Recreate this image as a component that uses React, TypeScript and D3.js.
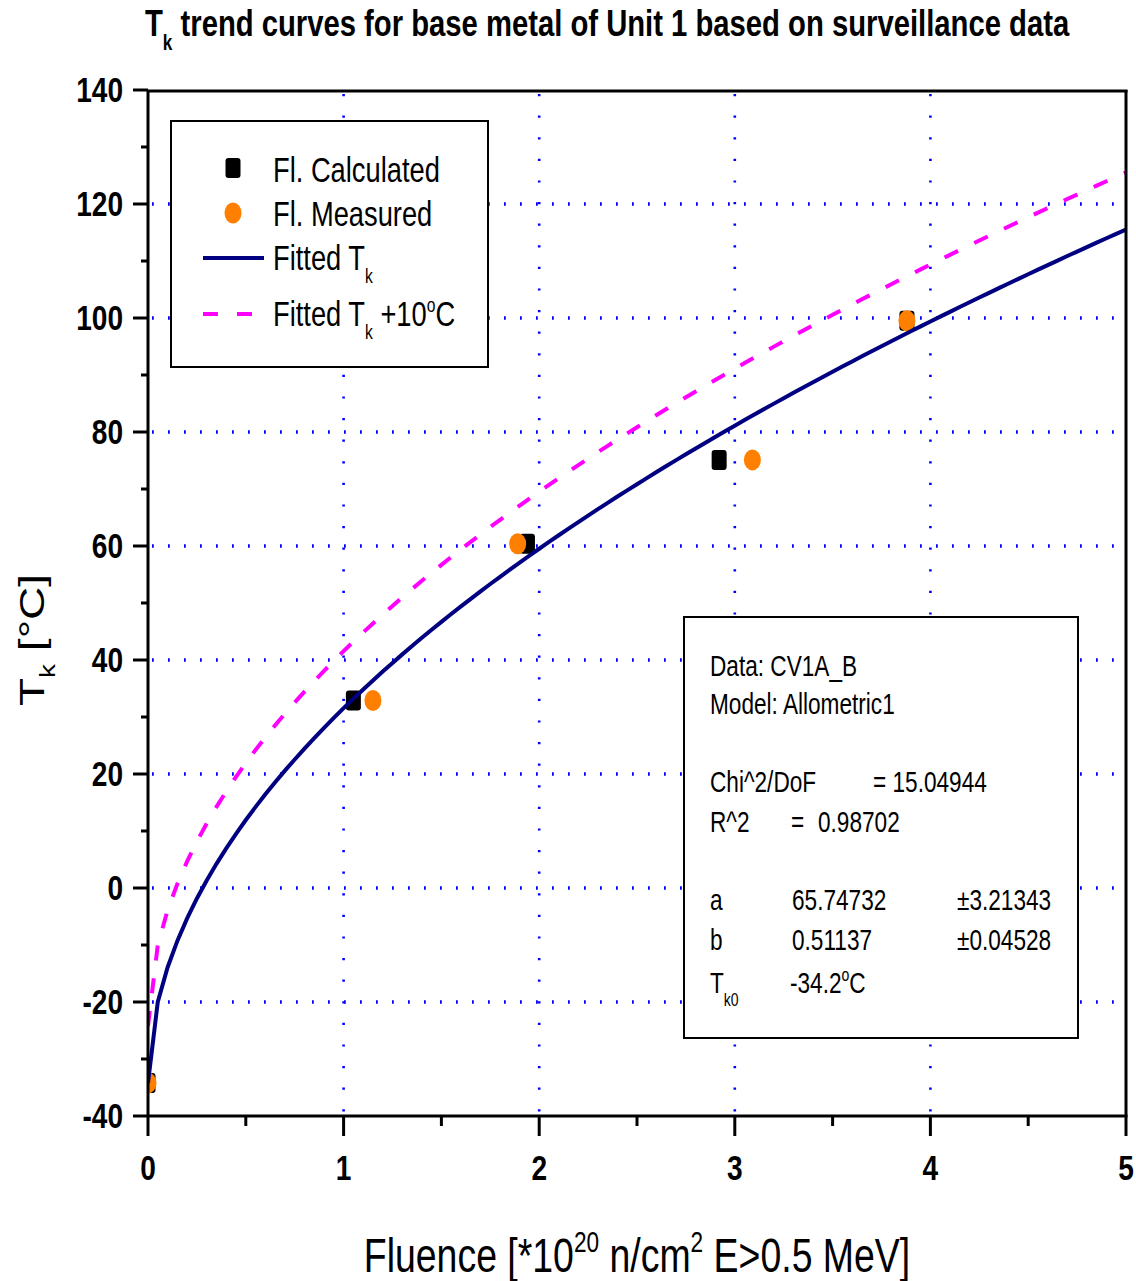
import React from 'react';
import * as d3 from 'd3';

// surveillance data
const fluenceCalc = [0, 1.05, 1.94, 2.92, 3.88];
const tkCalc = [-34.2, 32.9, 60.4, 75.1, 99.5];
const fluenceMeas = [0, 1.15, 1.89, 3.09, 3.88];
const tkMeas = [-34.2, 32.9, 60.4, 75.1, 99.5];

// allometric fit parameters (as printed in the box)
const fitA = 65.74732;
const fitB = 0.51137;
const tk0 = -34.2;
const offset = 10;

const xTicks = [0, 1, 2, 3, 4, 5];
const xMinor = [0.5, 1.5, 2.5, 3.5, 4.5];
const yTicks = [-40, -20, 0, 20, 40, 60, 80, 100, 120, 140];
const yMinor = [-30, -10, 10, 30, 50, 70, 90, 110, 130];
const xGrid = [1, 2, 3, 4];
const yGrid = [-20, 0, 20, 40, 60, 80, 100, 120];

const W = 1136, H = 1281;
const L = 148, R = 1126, TOP = 90, BOT = 1116;
const SX = 0.78;
const FONT = '"Liberation Sans", Arial, sans-serif';

const x = d3.scaleLinear([0, 5], [L, R]);
const y = d3.scaleLinear([-40, 140], [BOT, TOP]);

const fitX = d3.range(0, 5.0001, 0.05);
const fit = fitX.map(f => [f, tk0 + fitA * Math.pow(f, fitB)] as [number, number]);
const fitUp = fit.map(([f, t]) => [f, t + offset] as [number, number]);
const line = d3.line<[number, number]>().x(d => x(d[0])).y(d => y(d[1]));

function Txt(props: any) {
  const { x: tx, y: ty, size, bold, anchor, children, rot } = props;
  const tr = rot
    ? `translate(${tx},${ty}) rotate(-90) scale(1,${SX})`
    : `translate(${tx},${ty}) scale(${SX},1)`;
  return (
    <text transform={tr} fontSize={size} fontWeight={bold ? 'bold' : 'normal'}
      textAnchor={anchor || 'start'} fontFamily={FONT} fill="#000">
      {children}
    </text>
  );
}

export default function App() {
  return (
    <svg width={W} height={H} style={{ position: 'absolute', left: 0, top: 0, background: '#fff' }}>
      <defs>
        <clipPath id="plot"><rect x={L} y={TOP} width={R - L} height={BOT - TOP} /></clipPath>
      </defs>
      <rect width={W} height={H} fill="#fff" />

      {/* title */}
      <Txt x={145} y={36} size={37.5} bold>
        T<tspan dy={14} fontSize={22}>k</tspan>
        <tspan dy={-14}> trend curves for base metal of Unit 1 based on surveillance data</tspan>
      </Txt>

      {/* grid */}
      {yGrid.map(v => (
        <line key={'gy' + v} x1={L + 4} x2={R} y1={y(v)} y2={y(v)}
          stroke="#0000ff" strokeWidth={3.5} strokeDasharray="1.8 14.2" />
      ))}
      {xGrid.map(v => (
        <line key={'gx' + v} x1={x(v)} x2={x(v)} y1={TOP + 4} y2={BOT}
          stroke="#0000ff" strokeWidth={2.6} strokeDasharray="2.2 19.4" />
      ))}

      {/* data + fit */}
      <g clipPath="url(#plot)">
        {fluenceCalc.map((f, i) => (
          <rect key={'c' + i} x={x(f) - 7.5} y={y(tkCalc[i]) - 10} width={15} height={20} rx={3} fill="#000" />
        ))}
        {fluenceMeas.map((f, i) => (
          <ellipse key={'m' + i} cx={x(f)} cy={y(tkMeas[i])} rx={8.5} ry={10.5} fill="#ff8000" />
        ))}
        <path d={line(fit) || ''} fill="none" stroke="#000080" strokeWidth={4} />
        <path d={line(fitUp) || ''} fill="none" stroke="#ff00ff" strokeWidth={4} strokeDasharray="15 18" />
      </g>

      {/* frame */}
      <g stroke="#000" strokeWidth={3} fill="none">
        <line x1={L} x2={R + 1.5} y1={TOP + 1} y2={TOP + 1} />
        <line x1={R} x2={R} y1={TOP} y2={BOT} />
        <line x1={L} x2={L} y1={TOP} y2={BOT} />
        <line x1={L} x2={R + 1.5} y1={BOT} y2={BOT} />
        {yTicks.map(v => <line key={'yt' + v} x1={L - 15} x2={L} y1={y(v)} y2={y(v)} />)}
        {yMinor.map(v => <line key={'ym' + v} x1={L - 7} x2={L} y1={y(v)} y2={y(v)} />)}
        {xTicks.map(v => <line key={'xt' + v} x1={x(v)} x2={x(v)} y1={BOT} y2={BOT + 20} />)}
        {xMinor.map(v => <line key={'xm' + v} x1={x(v)} x2={x(v)} y1={BOT} y2={BOT + 10} />)}
      </g>

      {yTicks.map(v => (
        <Txt key={'yl' + v} x={123} y={y(v) + 12} size={36} bold anchor="end">{v}</Txt>
      ))}
      {xTicks.map(v => (
        <Txt key={'xl' + v} x={x(v)} y={1180} size={36} bold anchor="middle">{v}</Txt>
      ))}

      {/* axis titles */}
      <Txt x={637} y={1272} size={48} anchor="middle">
        Fluence [*10<tspan dy={-20} fontSize={29}>20</tspan>
        <tspan dy={20}> n/cm</tspan><tspan dy={-20} fontSize={29}>2</tspan>
        <tspan dy={20}> E&gt;0.5 MeV]</tspan>
      </Txt>
      <Txt x={44} y={640} size={46} anchor="middle" rot>
        T<tspan dy={14} fontSize={28}>k</tspan><tspan dy={-14}> [°C]</tspan>
      </Txt>

      {/* legend */}
      <rect x={171} y={121} width={317} height={246} fill="#fff" stroke="#000" strokeWidth={2} />
      <rect x={225.5} y={158} width={15} height={20} rx={3} fill="#000" />
      <ellipse cx={233} cy={213} rx={8.5} ry={10.5} fill="#ff8000" />
      <line x1={203} x2={264} y1={258} y2={258} stroke="#000080" strokeWidth={4} />
      <line x1={203} x2={264} y1={314} y2={314} stroke="#ff00ff" strokeWidth={4} strokeDasharray="15 19" />
      <Txt x={273} y={182} size={35}>Fl. Calculated</Txt>
      <Txt x={273} y={226} size={35}>Fl. Measured</Txt>
      <Txt x={273} y={270} size={35}>
        Fitted T<tspan dy={13} fontSize={20}>k</tspan>
      </Txt>
      <Txt x={273} y={326} size={35}>
        Fitted T<tspan dy={13} fontSize={20}>k</tspan>
        <tspan dy={-13}> +10</tspan><tspan dy={-14} fontSize={20}>o</tspan><tspan dy={14}>C</tspan>
      </Txt>

      {/* fit statistics box */}
      <rect x={684} y={617} width={394} height={421} fill="#fff" stroke="#000" strokeWidth={2} />
      <Txt x={710} y={676} size={29}>Data: CV1A_B</Txt>
      <Txt x={710} y={714} size={29}>Model: Allometric1</Txt>
      <Txt x={710} y={792} size={29}>Chi^2/DoF</Txt>
      <Txt x={873} y={792} size={29}>= {'15.04944'}</Txt>
      <Txt x={710} y={832} size={29}>R^2</Txt>
      <Txt x={791} y={832} size={29}>=</Txt>
      <Txt x={818} y={832} size={29}>0.98702</Txt>
      <Txt x={710} y={910} size={29}>a</Txt>
      <Txt x={792} y={910} size={29}>{fitA.toFixed(5)}</Txt>
      <Txt x={957} y={910} size={29}>±3.21343</Txt>
      <Txt x={710} y={950} size={29}>b</Txt>
      <Txt x={792} y={950} size={29}>{fitB.toFixed(5)}</Txt>
      <Txt x={957} y={950} size={29}>±0.04528</Txt>
      <Txt x={710} y={993} size={29}>
        T<tspan dy={13} fontSize={18}>k0</tspan>
      </Txt>
      <Txt x={790} y={993} size={29}>
        {tk0.toFixed(1)}<tspan dy={-12} fontSize={18}>o</tspan><tspan dy={12}>C</tspan>
      </Txt>
    </svg>
  );
}
